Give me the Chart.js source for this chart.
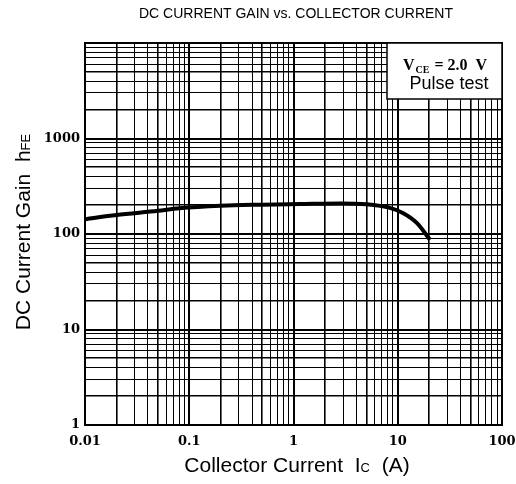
<!DOCTYPE html>
<html><head><meta charset="utf-8">
<script src="https://cdn.jsdelivr.net/npm/chart.js@4/dist/chart.umd.min.js"></script>
<style>html,body{margin:0;padding:0;background:#fff}#wrap{width:516px;height:484px}</style>
</head><body><div id="wrap"><canvas id="c" width="516" height="484"></canvas></div>
<script>
// ---- data ----
const collectorCurrent = [0.01, 0.02, 0.05, 0.08, 0.2, 0.5, 1.15, 2.8, 5, 8.4, 11.2, 15.3, 20.4];
const dcGain           = [143,  158,  175,  186,  198, 203, 206,  209, 205, 188, 166,  130,  87];
const xTickLabels = ['0.01', '0.1', '1', '10', '100'];
const yTickLabels = ['1', '10', '100', '1000'];
const chartTitle = 'DC CURRENT GAIN vs. COLLECTOR CURRENT';
const xTitleParts = ['Collector Current  I', 'C', '  (A)'];
const yTitleParts = ['DC Current Gain  h', 'FE'];
const legendV = ['V', 'CE', ' = 2.0  V'];
const legendLine2 = 'Pulse test';

function logTicks(min, max) {
  const out = [];
  for (let e = Math.round(Math.log10(min)); e < Math.round(Math.log10(max)); e++) {
    for (let m = 1; m <= 9; m++) out.push(Number((m * Math.pow(10, e)).toPrecision(6)));
  }
  out.push(max);
  return out;
}
function mantissa(v) {
  const e = Math.floor(Math.log10(v) + 1e-9);
  return Math.round(v / Math.pow(10, e));
}
function gridWidth(ctx) {
  const v = ctx.tick && ctx.tick.value;
  if (!v) return 1;
  const m = mantissa(v);
  if (m === 1) return 2;
  if (m === 5 || m === 2) return 1.6;
  return 1;
}
function labelFor(list) {
  return function (value) {
    const s = String(Number(value.toPrecision(6)));
    return list.includes(s) ? s : '';
  };
}

const decor = {
  id: 'decor',
  afterDraw(chart) {
    const c = chart.ctx, a = chart.chartArea;
    c.save();
    c.strokeStyle = '#000'; c.lineWidth = 2;
    c.strokeRect(a.left, a.top, a.right - a.left, a.bottom - a.top);
    // title
    c.fillStyle = '#000';
    c.font = '14px "Liberation Sans", Arial, sans-serif';
    c.textAlign = 'center'; c.textBaseline = 'middle';
    c.fillText(chartTitle, 296, 14);
    // legend box
    const bx = 387, by = a.top, bw = a.right - bx, bh = 56;
    c.fillStyle = '#fff';
    c.fillRect(bx, by, bw, bh);
    c.lineWidth = 1.5; c.strokeStyle = '#000';
    c.strokeRect(bx, by, bw, bh);
    c.fillStyle = '#000';
    c.textAlign = 'left'; c.textBaseline = 'alphabetic';
    let x = 403;
    c.font = 'bold 16px "Liberation Serif", serif';
    c.fillText(legendV[0], x, 70); x += c.measureText(legendV[0]).width + 1;
    c.font = 'bold 10px "Liberation Serif", serif';
    c.fillText(legendV[1], x, 73); x += c.measureText(legendV[1]).width + 1;
    c.font = 'bold 16px "Liberation Serif", serif';
    c.fillText(legendV[2], x, 70);
    c.font = '18px "Liberation Sans", Arial, sans-serif';
    c.textAlign = 'center';
    c.fillText(legendLine2, 449, 89);
    // x title
    c.textAlign = 'left';
    const big = '21px "Liberation Sans", Arial, sans-serif';
    const small = '13px "Liberation Sans", Arial, sans-serif';
    c.font = big; const w0 = c.measureText(xTitleParts[0]).width; const w2 = c.measureText(xTitleParts[2]).width;
    c.font = small; const w1 = c.measureText(xTitleParts[1]).width;
    let tx = 297 - (w0 + w1 + w2) / 2; const ty = 472;
    c.font = big; c.fillText(xTitleParts[0], tx, ty); tx += w0;
    c.font = small; c.fillText(xTitleParts[1], tx, ty); tx += w1;
    c.font = big; c.fillText(xTitleParts[2], tx, ty);
    // y title
    c.translate(30, 232); c.rotate(-Math.PI / 2);
    c.font = big; const v0 = c.measureText(yTitleParts[0]).width;
    c.font = small; const v1 = c.measureText(yTitleParts[1]).width;
    let yx = -(v0 + v1) / 2;
    c.font = big; c.fillText(yTitleParts[0], yx, 0); yx += v0;
    c.font = small; c.fillText(yTitleParts[1], yx, 0);
    c.restore();
  }
};

const tickFont = { family: '"DejaVu Serif", serif', size: 13, weight: 'bold' };

new Chart(document.getElementById('c'), {
  type: 'line',
  data: {
    datasets: [{
      data: collectorCurrent.map((x, i) => ({ x: x, y: dcGain[i] })),
      borderColor: '#000', borderWidth: 4, pointRadius: 0,
      cubicInterpolationMode: 'monotone', fill: false
    }]
  },
  options: {
    responsive: false, animation: false, devicePixelRatio: 1,
    layout: { padding: { left: 0, right: 14, top: 43, bottom: 0 } },
    plugins: { legend: { display: false }, title: { display: false }, tooltip: { enabled: false } },
    scales: {
      x: {
        type: 'logarithmic', min: 0.01, max: 100,
        afterBuildTicks(s) { s.ticks = logTicks(0.01, 100).map(v => ({ value: v })); },
        afterFit(s) { s.height = 59; s.paddingLeft = 0; s.paddingRight = 0; },
        grid: { color: '#000', lineWidth: gridWidth, drawTicks: false },
        border: { display: true, color: '#000', width: 2 },
        ticks: { autoSkip: false, maxRotation: 0, padding: 9, color: '#000', font: tickFont, callback: labelFor(xTickLabels) }
      },
      y: {
        type: 'logarithmic', min: 1, max: 10000,
        afterBuildTicks(s) { s.ticks = logTicks(1, 10000).map(v => ({ value: v })); },
        afterFit(s) { s.width = 85; s.paddingTop = 0; s.paddingBottom = 0; },
        grid: { color: '#000', lineWidth: gridWidth, drawTicks: false },
        border: { display: true, color: '#000', width: 2 },
        ticks: { autoSkip: false, padding: 5, color: '#000', font: tickFont, callback: labelFor(yTickLabels) }
      }
    }
  },
  plugins: [decor]
});
</script></body></html>
